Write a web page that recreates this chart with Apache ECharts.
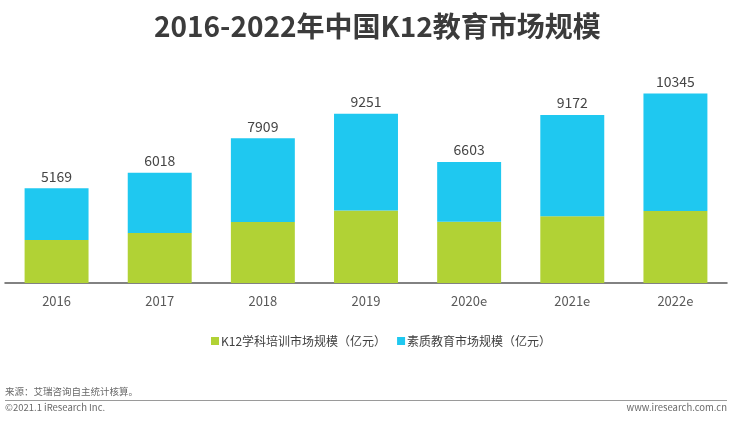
<!DOCTYPE html>
<html><head><meta charset="utf-8">
<script src="https://cdn.jsdelivr.net/npm/echarts@6/dist/echarts.min.js"></script>
<style>html,body{margin:0;padding:0;background:#fff}#c{width:730px;height:423px}</style>
</head><body><div id="c"></div>
<script>
const categories = ['2016','2017','2018','2019','2020e','2021e','2022e'];
const totals = [5169, 6018, 7909, 9251, 6603, 9172, 10345];
const k12Values = [2350, 2730, 3330, 3965, 3345, 3640, 3930];
const qualityValues = totals.map((t, i) => t - k12Values[i]);
const seriesNames = ['K12学科培训市场规模（亿元）', '素质教育市场规模（亿元）'];

const chart = echarts.init(document.getElementById('c'));
const font = '"Noto Sans CJK SC", "Noto Sans", sans-serif';
chart.setOption({
  animation: false,
  textStyle: { fontFamily: font },
  title: {
    text: '2016-2022年中国K12教育市场规模',
    left: 149, top: 7,
    textStyle: { fontSize: 28, fontWeight: 'bold', color: '#3b3b3b', fontFamily: font }
  },
  legend: {
    bottom: 71, left: 206,
    itemWidth: 8, itemHeight: 8, itemGap: 11,
    icon: 'rect',
    textStyle: { fontSize: 12, color: '#404040', padding: [0, 0, 0, -3] },
    data: seriesNames
  },
  grid: { left: 5, right: 3, top: 45, bottom: 140, containLabel: false },
  xAxis: {
    type: 'category', data: categories,
    axisLine: { lineStyle: { color: '#595959', width: 1.5 } },
    axisTick: { show: false },
    axisLabel: { fontSize: 13, color: '#595959', margin: 12 }
  },
  yAxis: { type: 'value', min: 0, max: 13000, show: false, splitLine: { show: false } },
  series: [
    {
      name: seriesNames[0], type: 'bar', stack: 'total', barWidth: '62%',
      itemStyle: { color: '#B1D235' }, data: k12Values
    },
    {
      name: seriesNames[1], type: 'bar', stack: 'total', barWidth: '62%',
      itemStyle: { color: '#1FC8F0' }, data: qualityValues,
      label: {
        show: true, position: 'top', distance: 5, fontSize: 14, color: '#454545',
        formatter: p => totals[p.dataIndex]
      }
    }
  ],
  graphic: [
    { type: 'text', left: 5, top: 387, style: { text: '来源：艾瑞咨询自主统计核算。', fontSize: 9.5, fill: '#6a6a6a', fontFamily: font } },
    { type: 'rect', shape: { x: 5, y: 400, width: 722, height: 1 }, style: { fill: '#9a9a9a' } },
    { type: 'text', left: 5, top: 403, style: { text: '©2021.1 iResearch Inc.', fontSize: 9.5, fill: '#6a6a6a', fontFamily: font } },
    { type: 'text', right: 3, top: 403, style: { text: 'www.iresearch.com.cn', fontSize: 9.5, fill: '#6a6a6a', fontFamily: font } }
  ]
});
</script></body></html>
